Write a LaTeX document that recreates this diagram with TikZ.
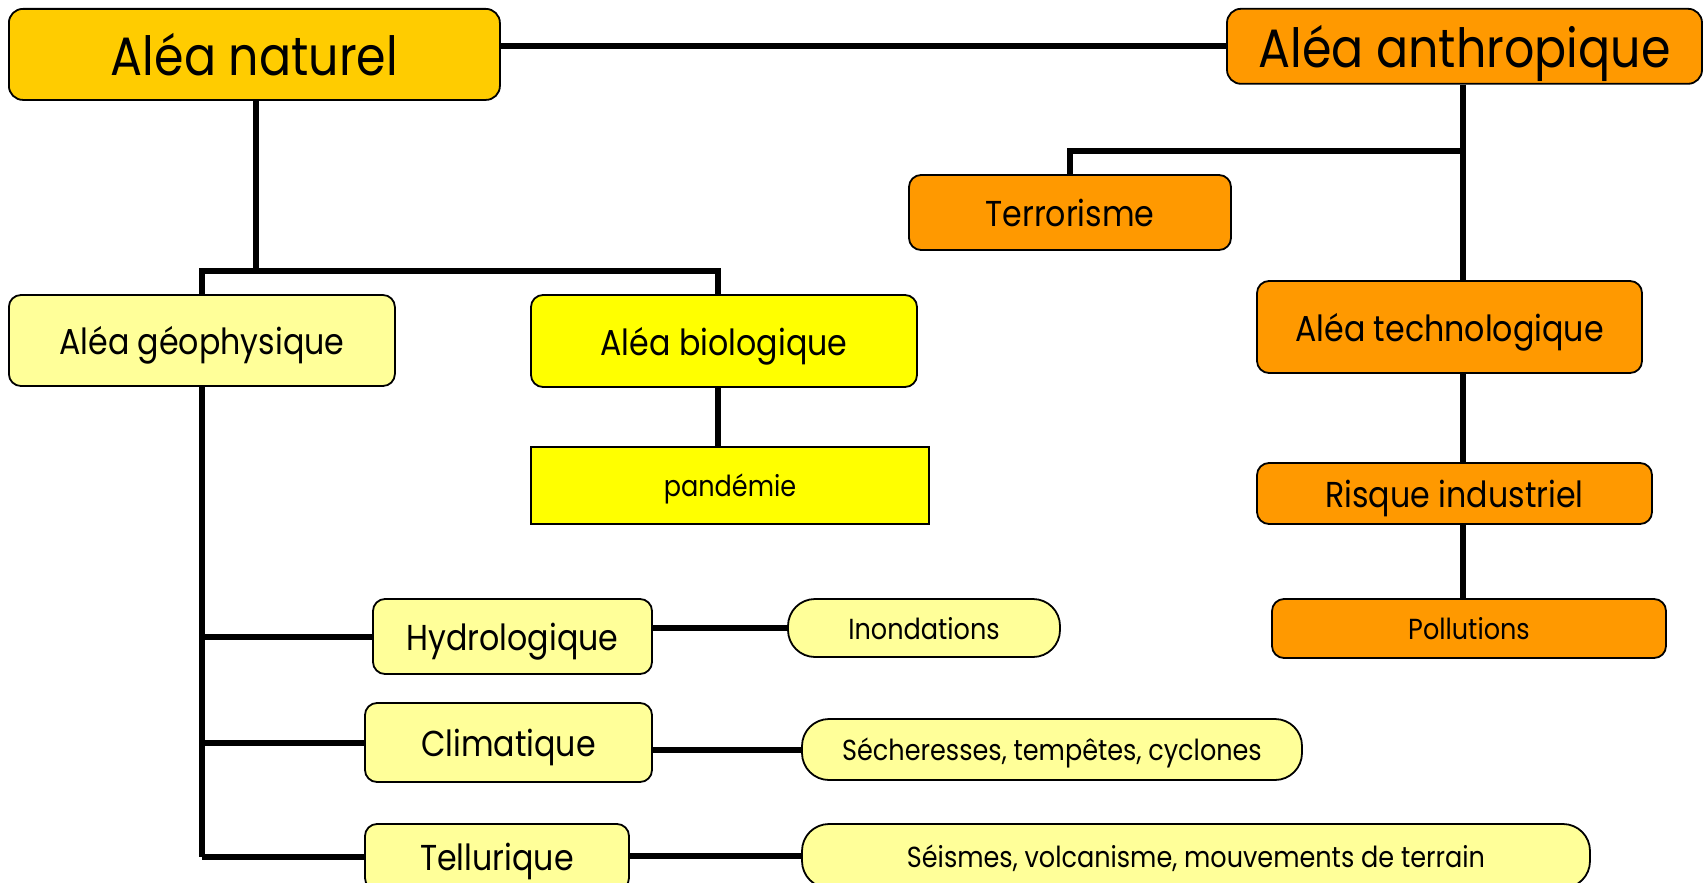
\documentclass[tikz,border=0pt]{standalone}
\usepackage{fontspec}
\setmainfont[FakeStretch=0.88]{Poppins}
\usetikzlibrary{calc}
\definecolor{natgold}{HTML}{FFCC00}
\definecolor{anthorange}{HTML}{FF9900}
\definecolor{paleyellow}{HTML}{FFFF99}
\definecolor{brightyellow}{HTML}{FFFF00}
\tikzset{
  box/.style={draw=black, line width=1.8pt, rounded corners=12pt, inner sep=0pt, align=center, text depth=0pt},
  bigbox/.style={box, rounded corners=14pt, font=\fontsize{54}{60}\selectfont},
  midbox/.style={box, font=\fontsize{36}{40}\selectfont},
  smallbox/.style={box, font=\fontsize{29}{32}\selectfont},
  pill/.style={smallbox, rounded corners=27pt},
  link/.style={line width=6pt, black},
}
\begin{document}
\begin{tikzpicture}[x=1pt, y=-1pt]
\useasboundingbox (0,0) rectangle (1705,883);
\clip (0,0) rectangle (1705,883);

% junction wiring first, so the boxes sit on top of the line ends
\coordinate (nj) at (255.5,271);
\coordinate (aj) at (1462.5,151);

% top level
\node[bigbox, fill=natgold, minimum width=491pt, minimum height=91pt] (nat) at (254.4,54.4) {Aléa naturel};
\node[bigbox, fill=anthorange, minimum width=475pt, minimum height=75pt] (anth) at (1464.5,46.3) {Aléa anthropique};

% natural hazards
\node[midbox, fill=paleyellow, minimum width=386pt, minimum height=91pt] (geo) at (201.9,340.5) {Aléa géophysique};
\node[midbox, fill=brightyellow, minimum width=386pt, minimum height=92pt] (bio) at (724,341) {Aléa biologique};
\node[smallbox, rounded corners=0pt, fill=brightyellow, minimum width=398pt, minimum height=77pt] (pand) at (730,485.5) {pandémie};

\node[midbox, fill=paleyellow, minimum width=279pt, minimum height=75pt] (hydro) at (512.5,636.5) {Hydrologique};
\node[midbox, fill=paleyellow, minimum width=287pt, minimum height=79pt] (clim) at (508.5,742.5) {Climatique};
\node[midbox, fill=paleyellow, minimum width=264pt, minimum height=66pt] (tell) at (497,857) {Tellurique};

\node[pill, fill=paleyellow, minimum width=272pt, minimum height=58pt] (ino) at (924,628) {Inondations};
\node[pill, fill=paleyellow, minimum width=500pt, minimum height=61pt] (sech) at (1052,749.5) {Sécheresses, tempêtes, cyclones};
\node[pill, fill=paleyellow, minimum width=788pt, minimum height=64pt] (seis) at (1196,856) {Séismes, volcanisme, mouvements de terrain};

% anthropic hazards
\node[midbox, fill=anthorange, minimum width=322pt, minimum height=75pt] (terr) at (1070,212.5) {Terrorisme};
\node[midbox, fill=anthorange, minimum width=385pt, minimum height=92pt] (tech) at (1449.5,327) {Aléa technologique};
\node[midbox, fill=anthorange, minimum width=395pt, minimum height=61pt] (risk) at (1454.5,493.5) {Risque industriel};
\node[smallbox, fill=anthorange, minimum width=394pt, minimum height=59pt] (poll) at (1469,628.5) {Pollutions};

% connectors
\draw[link] (anth.west) -- (anth.west -| nat.east);
\draw[link] (nat.south -| nj) -- (nj);
\draw[link] (geo.north) |- (nj) -| ([xshift=-6pt]bio.north);
\draw[link] ([xshift=-6pt]bio.south) -- ([xshift=-6pt]bio.south |- pand.north);

\draw[link] (geo.south) -- (geo.south |- tell.west);
\draw[link] (geo.south |- hydro.west) -- (hydro.west);
\draw[link] (geo.south |- clim.west) -- (clim.west);
\draw[link] (geo.south |- tell.west) -- (tell.west);

\draw[link] (ino.west) -- (ino.west -| hydro.east);
\draw[link] (sech.west) -- (sech.west -| clim.east);
\draw[link] (seis.west) -- (seis.west -| tell.east);

\draw[link] (anth.south -| aj) -- (aj |- tech.north);
\draw[link] (aj) -| (terr.north);
\draw[link] (aj |- tech.south) -- (aj |- risk.north);
\draw[link] (aj |- risk.south) -- (aj |- poll.north);
\end{tikzpicture}
\end{document}
